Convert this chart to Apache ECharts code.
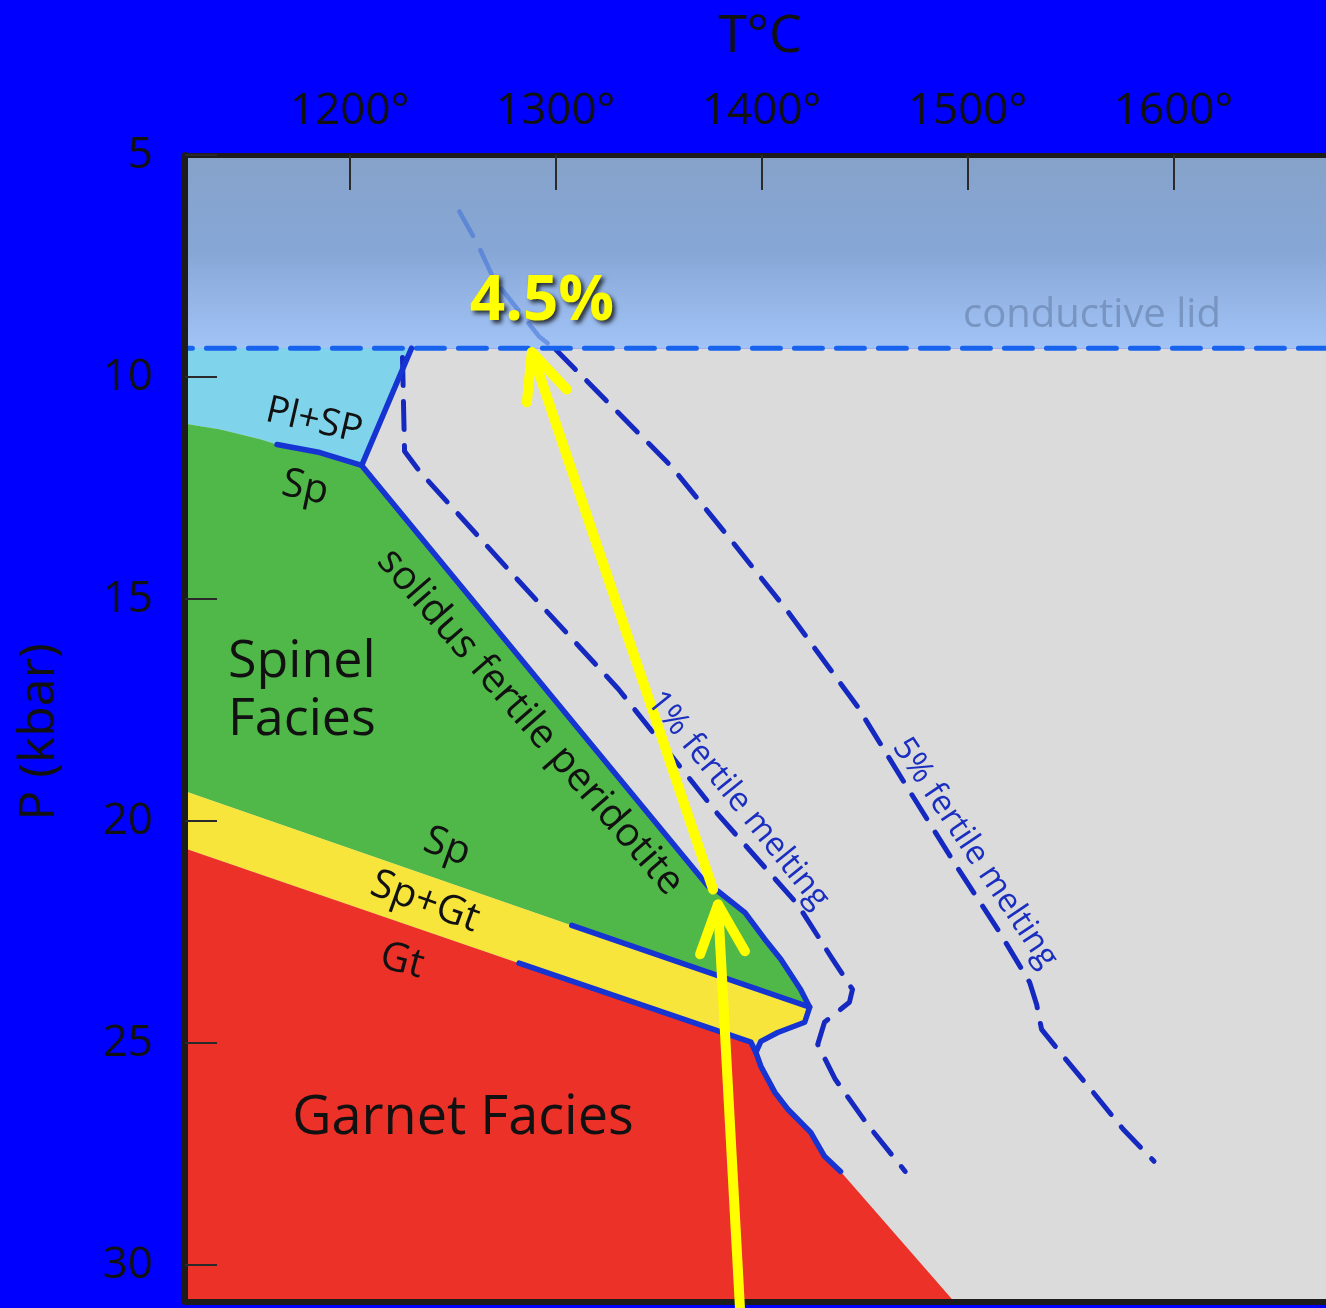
<!DOCTYPE html>
<html><head><meta charset="utf-8">
<style>html,body{margin:0;padding:0;background:#0000ff;}#c{width:1326px;height:1308px;}</style>
<script src="https://cdn.jsdelivr.net/npm/echarts@6/dist/echarts.min.js"></script>
</head><body><div id="c"></div>
<script>
// ---------- data (T in °C, P in kbar) ----------
const xTicks = [1200, 1300, 1400, 1500, 1600];
const yTicks = [5, 10, 15, 20, 25, 30];
const lidBase = 9.35;

const lidRegion   = [[1110, 4.5], [1690, 4.5], [1690, 9.35], [1110, 9.35]];
const mantleRegion = [[1110, 9.35], [1690, 9.35], [1690, 31.2], [1110, 31.2]];
const plSpRegion  = [[1110, 9.35], [1230.0, 9.35], [1205.8, 11.99], [1185.5, 11.70], [1164.7, 11.52], [1156.5, 11.40], [1137.2, 11.18], [1110, 10.98]];
const spinelRegion = [[1110, 10.98], [1137.2, 11.18], [1156.5, 11.40], [1164.7, 11.52], [1185.5, 11.70], [1205.8, 11.99], [1311.2, 17.93], [1374.0, 21.47], [1378.8, 21.58], [1391.9, 22.06], [1401.5, 22.66], [1409.3, 23.11], [1418.9, 23.79], [1423.3, 24.19], [1307.8, 22.35], [1110, 19.17]];
const spGtRegion  = [[1110, 19.17], [1307.8, 22.35], [1423.3, 24.19], [1420.9, 24.53], [1407.8, 24.76], [1399.6, 24.96], [1394.8, 24.98], [1282.2, 23.20], [1110, 20.46]];
const garnetRegion = [[1110, 20.46], [1282.2, 23.20], [1394.8, 24.98], [1397.2, 25.21], [1399.6, 25.52], [1406.4, 26.11], [1412.7, 26.49], [1423.8, 27.01], [1430.5, 27.55], [1438.3, 27.89], [1493.4, 30.82], [1500.5, 31.2], [1110, 31.2]];

const solidus = [[1230.0, 9.35], [1205.8, 11.99], [1311.2, 17.93], [1374.0, 21.47], [1378.8, 21.58], [1391.9, 22.06], [1401.5, 22.66], [1409.3, 23.11], [1418.9, 23.79], [1423.3, 24.19], [1420.9, 24.53], [1407.8, 24.76], [1399.6, 24.96], [1397.2, 25.21], [1399.6, 25.52], [1406.4, 26.11], [1412.7, 26.49], [1423.8, 27.01], [1430.5, 27.55], [1438.3, 27.89]];
const plSpBoundary = [[1164.7, 11.52], [1185.5, 11.70], [1205.8, 11.99]];
const spGtTopBoundary = [[1307.8, 22.35], [1423.3, 24.19]];
const spGtBottomBoundary = [[1282.2, 23.20], [1394.8, 24.98], [1397.2, 25.21]];
const lidLine = [[1110, 9.35], [1690, 9.35]];

const melt1 = [[1225.6, 9.56], [1226.6, 11.67], [1233.8, 12.12], [1258.0, 13.36], [1282.2, 14.60], [1330.5, 17.03], [1378.8, 19.85], [1417.5, 21.88], [1434.4, 23.11], [1444.1, 23.79], [1442.6, 24.08], [1430.5, 24.53], [1427.2, 25.03], [1435.8, 25.82], [1451.3, 26.83], [1469.7, 27.89]];
const melt5Lid = [[1253.2, 6.27], [1262.0, 7.00], [1270.0, 7.80], [1291.8, 9.08], [1300.0, 9.38]];
const melt5 = [[1300.0, 9.38], [1356.1, 12.01], [1383.7, 13.59], [1412.7, 15.28], [1446.5, 17.42], [1469.2, 19.13], [1493.4, 20.93], [1515.6, 22.51], [1530.1, 23.63], [1533.5, 24.13], [1535.9, 24.69], [1546.5, 25.30], [1561.0, 26.11], [1575.5, 26.94], [1590.5, 27.66]];

const arrowLowShaft = [[1389.5, 31.0], [1378.8, 21.88]];
const arrowLowHead  = [[1370.1, 23.00], [1378.8, 21.88], [1391.9, 22.93]];
const arrowUpShaft  = [[1376.4, 21.54], [1288.4, 9.44]];
const arrowUpHead   = [[1286.0, 10.57], [1288.4, 9.44], [1305.4, 10.28]];

// ---------- chart ----------
const FONT = "'Open Sans', 'Noto Sans', sans-serif";
const chart = echarts.init(document.getElementById('c'), null, {renderer: 'canvas'});

function region(pts, fill, z) {
  return {
    type: 'custom', data: pts, clip: true, z: z || 1, silent: true,
    renderItem: function (params, api) {
      if (params.dataIndex !== 0) return;
      return {type: 'polygon', shape: {points: pts.map(p => api.coord(p))}, style: {fill: fill}};
    }
  };
}
function line(pts, color, width, dash, z, opacity, clip) {
  return {
    type: 'line', data: pts, showSymbol: false, symbol: 'none', silent: true, z: z || 3,
    clip: clip !== false, animation: false,
    lineStyle: {color: color, width: width, type: dash || 'solid', cap: 'round', join: 'round', opacity: opacity == null ? 1 : opacity}
  };
}

const lidGradient = new echarts.graphic.LinearGradient(0, 0, 0, 1, [
  {offset: 0, color: '#86a1c7'}, {offset: 0.55, color: '#86a7d6'}, {offset: 1, color: '#a2c3f6'}
]);

// deg > 0 : counter-clockwise, deg < 0 : clockwise (text running down-right)
function txt(text, x, y, size, deg, opts) {
  opts = opts || {};
  return {
    type: 'text', x: x, y: y, rotation: (deg || 0) * Math.PI / 180, z: 100, silent: true,
    style: Object.assign({
      text: text, font: (opts.weight || 'normal') + ' ' + size + 'px ' + FONT,
      fill: opts.color || '#111', align: opts.align || 'center', verticalAlign: 'middle',
      textAlign: opts.align || 'center', textVerticalAlign: 'middle'
    }, opts.extra || {})
  };
}

const option = {
  animation: false,
  backgroundColor: '#0000ff',
  textStyle: {fontFamily: FONT},
  grid: {left: 185, right: -5, top: 155, bottom: 6, containLabel: false},
  xAxis: [{
    type: 'value', position: 'top', min: 1120, max: 1674, z: 10,
    axisLine: {show: true, lineStyle: {color: '#1c1c1c', width: 5}},
    axisTick: {show: true, inside: true, length: 35, lineStyle: {color: '#2a2a2a', width: 2}, customValues: xTicks},
    axisLabel: {show: true, fontSize: 44, color: '#111', margin: 22, customValues: xTicks, formatter: v => v + '°'},
    splitLine: {show: false}
  }, {
    type: 'value', position: 'bottom', min: 1120, max: 1674, z: 10,
    axisLine: {show: true, lineStyle: {color: '#1c1c1c', width: 6}},
    axisTick: {show: false}, axisLabel: {show: false}, splitLine: {show: false}
  }],
  yAxis: {
    type: 'value', inverse: true, min: 5, max: 30.83, z: 10,
    axisLine: {show: true, lineStyle: {color: '#1c1c1c', width: 6}},
    axisTick: {show: true, inside: true, length: 32, lineStyle: {color: '#2a2a2a', width: 2}, customValues: yTicks},
    axisLabel: {show: true, fontSize: 44, color: '#111', margin: 32, customValues: yTicks},
    splitLine: {show: false}
  },
  series: [
    region(mantleRegion, '#dcdbdb', 1),
    region(lidRegion, lidGradient, 1),
    region(plSpRegion, '#7fd3ea', 1),
    region(spinelRegion, '#50b848', 1),
    region(spGtRegion, '#f7e53c', 1),
    region(garnetRegion, '#ec3129', 1),
    line(melt5Lid, '#3e6fd8', 4.5, [28, 16], 3, 0.55),
    line(melt1, '#1529c0', 5, [28, 16], 3),
    line(melt5, '#1529c0', 5, [28, 16], 3),
    line(lidLine, '#1763ee', 5, [28, 14], 4),
    line(solidus, '#1534d2', 5.5, 'solid', 4),
    line(plSpBoundary, '#1534d2', 5.5, 'solid', 4),
    line(spGtTopBoundary, '#1534d2', 5.5, 'solid', 4),
    line(spGtBottomBoundary, '#1534d2', 5.5, 'solid', 4),
    line(arrowLowShaft, '#ffff00', 10, 'solid', 20, 1, false),
    line(arrowLowHead, '#ffff00', 10, 'solid', 20, 1, false),
    line(arrowUpShaft, '#ffff00', 10, 'solid', 20, 1, false),
    line(arrowUpHead, '#ffff00', 10, 'solid', 20, 1, false)
  ],
  graphic: [
    txt('T°C', 760, 37, 52, 0),
    txt('P (kbar)', 40, 732, 50, 90),
    txt('conductive lid', 1092, 316, 40, 0, {color: '#7894c0'}),
    txt('4.5%', 542, 302, 62, 0, {weight: 'bold', color: '#ffff00', extra: {textShadowColor: 'rgba(0,0,0,0.75)', textShadowBlur: 4, textShadowOffsetX: 3, textShadowOffsetY: 3}}),
    txt('Pl+SP', 314, 421, 38, -13),
    txt('Sp', 305, 488, 40, -12),
    txt('solidus fertile peridotite', 530, 722, 40, -49),
    txt('1% fertile melting', 738, 800, 33, -51, {color: '#1a2fc0'}),
    txt('5% fertile melting', 975, 853, 33, -56, {color: '#1a2fc0'}),
    txt('Spinel', 228, 662, 52, 0, {align: 'left'}),
    txt('Facies', 228, 720, 52, 0, {align: 'left'}),
    txt('Sp', 447, 847, 40, -20),
    txt('Sp+Gt', 425, 902, 40, -20),
    txt('Gt', 402, 961, 40, -15),
    txt('Garnet Facies', 463, 1119, 54, 0)
  ]
};
chart.setOption(option);
</script></body></html>
